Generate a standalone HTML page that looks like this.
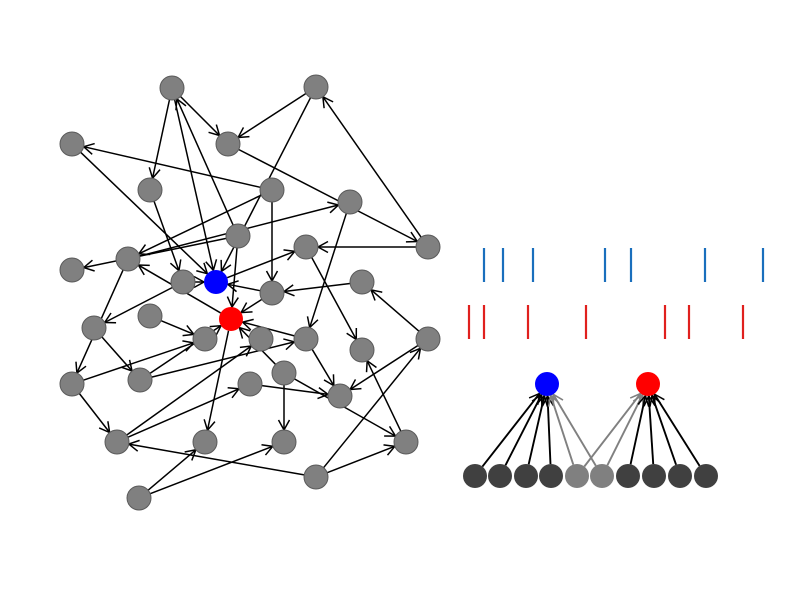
<!DOCTYPE html>
<html><head><meta charset="utf-8"><style>html,body{margin:0;padding:0;background:#fff}svg{display:block}</style></head>
<body>
<svg id="s" width="800" height="600" xmlns="http://www.w3.org/2000/svg">
<defs>
<marker id="ak" markerWidth="14" markerHeight="14" refX="11" refY="7" orient="auto" markerUnits="userSpaceOnUse"><path d="M1,1.5 L11,7 L1,12.5" fill="none" stroke="#000" stroke-width="1.5"/></marker>
<marker id="ag" markerWidth="14" markerHeight="14" refX="11" refY="7" orient="auto" markerUnits="userSpaceOnUse"><path d="M1,1.5 L11,7 L1,12.5" fill="none" stroke="#808080" stroke-width="1.6"/></marker>
</defs>
<g id="edges"></g><g id="nodes"></g>
<g stroke="#1a6fbd" stroke-width="2.2">
<line x1="484" y1="248" x2="484" y2="282"/><line x1="503" y1="248" x2="503" y2="282"/><line x1="533" y1="248" x2="533" y2="282"/><line x1="605" y1="248" x2="605" y2="282"/><line x1="631" y1="248" x2="631" y2="282"/><line x1="705" y1="248" x2="705" y2="282"/><line x1="763" y1="248" x2="763" y2="282"/>
</g>
<g stroke="#e0201e" stroke-width="2.2">
<line x1="469" y1="305" x2="469" y2="339"/><line x1="484" y1="305" x2="484" y2="339"/><line x1="528" y1="305" x2="528" y2="339"/><line x1="586" y1="305" x2="586" y2="339"/><line x1="665" y1="305" x2="665" y2="339"/><line x1="689" y1="305" x2="689" y2="339"/><line x1="743" y1="305" x2="743" y2="339"/>
</g>
</svg>
<script>
var N={A:[172,88],B:[316,87],C:[72,144],D:[228,144],E:[150,190],F:[272,190],G:[350,202],H:[238,236],I:[306,247],J:[428,247],K:[128,259],L:[72,270],M:[183,282],Bl:[216,282],Nn:[272,293],O:[362,282],P:[150,316],Rd:[231,319],Q:[94,328],R:[205,339],S:[261,339],T:[306,339],U:[428,339],V:[362,350],W:[72,384],X:[140,380],Y:[250,384],Z:[284,373],AA:[340,396],AB:[117,442],AC:[205,442],AD:[284,442],AE:[406,442],AF:[316,477],AG:[139,498],
b0:[475,476],b1:[500,476],b2:[526,476],b3:[551,476],b4:[577,476],b5:[602,476],b6:[628,476],b7:[654,476],b8:[680,476],b9:[706,476],RB:[547,384],RR:[648,384]};
var E=[["A","E"],["A","Bl"],["A","D"],["H","A"],["B","D"],["B","Bl"],["J","B"],["D","J"],["F","C"],["C","Bl"],["F","K"],["F","Nn"],["E","M"],["H","L"],["K","G"],["H","Rd"],["Bl","I"],["J","I"],["I","V"],["G","T"],["O","Nn"],["U","O"],["Nn","Rd"],["Nn","Bl"],["Rd","K"],["M","Bl"],["M","Q"],["K","W"],["Q","X"],["W","R"],["X","Rd"],["P","R"],["W","AB"],["X","T"],["Z","Rd"],["T","Rd"],["Z","AD"],["Z","AE"],["Y","AA"],["T","AA"],["U","AA"],["AE","V"],["AB","S"],["AB","Y"],["Rd","AC"],["AF","AB"],["AF","AE"],["AF","U"],["AG","AC"],["AG","AD"],
["b0","RB"],["b1","RB"],["b2","RB"],["b3","RB"],["b4","RB",1],["b5","RB",1],["b4","RR",1],["b5","RR",1],["b6","RR"],["b7","RR"],["b8","RR"],["b9","RR"]];
var ns="http://www.w3.org/2000/svg",ge=document.getElementById("edges"),gn=document.getElementById("nodes");
E.forEach(function(e){var a=N[e[0]],b=N[e[1]],dx=b[0]-a[0],dy=b[1]-a[1],d=Math.hypot(dx,dy),r=12;
var l=document.createElementNS(ns,"line");l.setAttribute("x1",a[0]+dx/d*r);l.setAttribute("y1",a[1]+dy/d*r);l.setAttribute("x2",b[0]-dx/d*r);l.setAttribute("y2",b[1]-dy/d*r);
var c=e[2]?"#808080":"#000";l.setAttribute("stroke",c);l.setAttribute("stroke-width",e[0][0]=="b"?1.9:1.5);l.setAttribute("marker-end",e[2]?"url(#ag)":"url(#ak)");ge.appendChild(l);});
for(var k in N){var c=document.createElementNS(ns,"circle");c.setAttribute("cx",N[k][0]);c.setAttribute("cy",N[k][1]);c.setAttribute("r",12);
var f="#808080",s="#5a5a5a";if(k=="Bl"||k=="RB"){f="#0000ff";s="none"}else if(k=="Rd"||k=="RR"){f="#ff0000";s="none"}else if(k[0]=="b"&&k!="b4"&&k!="b5"){f="#404040";s="none"}else if(k=="b4"||k=="b5"){s="none"}
c.setAttribute("fill",f);if(s!="none"){c.setAttribute("stroke",s);c.setAttribute("stroke-width",1)}gn.appendChild(c);}
</script>
</body></html>
